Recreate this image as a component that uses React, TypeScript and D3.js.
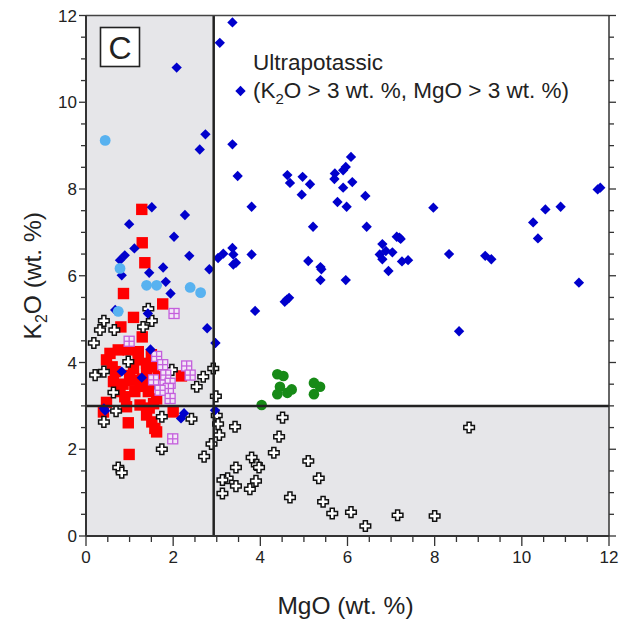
import React from "react";
import * as d3 from "d3";

const blueDiamonds: [number, number][] = [
  [3.36, 11.84], [3.07, 11.37], [2.08, 10.8], [2.74, 9.26], [2.61, 8.91], [3.36, 9.03], [3.48, 8.3],
  [4.62, 8.32], [4.68, 8.14], [4.97, 8.28], [5.14, 8.11], [4.95, 7.87], [3.8, 7.59], [5.71, 8.36],
  [5.7, 8.23], [5.9, 8.43], [5.96, 8.51], [6.08, 8.74], [6.11, 8.16], [5.9, 8.03], [6.41, 7.84],
  [5.77, 7.7], [5.98, 7.59], [1.51, 7.58], [7.97, 7.57], [10.54, 7.53], [10.89, 7.59], [11.74, 7.99],
  [11.8, 8.03], [10.26, 7.23], [10.37, 6.86], [11.31, 5.84], [8.56, 4.72], [7.19, 6.88], [7.22, 6.85],
  [6.8, 6.73], [6.88, 6.57], [7.03, 6.54], [6.8, 6.38], [6.94, 6.11], [7.25, 6.33], [7.39, 6.36],
  [8.33, 6.5], [9.16, 6.46], [9.3, 6.38], [5.21, 7.13], [6.44, 7.13], [6.74, 6.49], [7.13, 6.9],
  [3.36, 6.64], [3.15, 6.51], [3.03, 6.41], [3.38, 6.49], [3.38, 6.26], [3.44, 6.3], [3.8, 6.49],
  [2.83, 6.15], [5.1, 6.34], [5.38, 6.2], [5.4, 6.15], [5.38, 5.9], [5.96, 5.9], [4.66, 5.49],
  [4.56, 5.4], [4.61, 5.45], [3.88, 5.19], [2.78, 4.79], [2.97, 4.45], [2.27, 7.4], [0.99, 7.19],
  [2.02, 6.9], [1.11, 6.63], [0.89, 6.47], [0.78, 6.36], [2.37, 6.46], [0.82, 6.01], [1.45, 6.07],
  [1.77, 6.19], [1.83, 5.86], [1.94, 5.59], [0.67, 5.21], [1.42, 5.13], [1.48, 4.3], [0.82, 3.79],
  [1.28, 3.65], [0.44, 2.89], [0.41, 2.94], [2.25, 2.83], [2.18, 2.71], [2.96, 2.9],
];

const lightBlueCircles: [number, number][] = [
  [0.44, 9.12], [0.78, 6.17], [1.39, 5.78], [1.62, 5.78], [2.39, 5.73], [2.63, 5.61], [0.74, 5.18],
];

const redSquares: [number, number][] = [
  [1.28, 7.53], [1.29, 6.76], [1.35, 6.3], [0.86, 5.59], [1.76, 5.35], [1.09, 5.04], [0.8, 4.82],
  [1.29, 4.59], [0.55, 4.21], [0.74, 4.29], [0.97, 4.29], [1.2, 4.25], [0.47, 4.06], [1.2, 4.06],
  [1.39, 3.98], [0.67, 3.79], [1.09, 3.86], [1.39, 3.79], [1.66, 3.67], [0.63, 3.56], [1.05, 3.59],
  [1.43, 3.52], [2.19, 3.69], [0.78, 3.33], [1.12, 3.33], [1.43, 3.33], [1.62, 3.16], [0.47, 3.08],
  [0.93, 2.98], [1.24, 3.02], [1.39, 2.79], [2.0, 2.86], [0.97, 2.61], [1.51, 2.63], [1.58, 2.48],
  [1.62, 2.4], [0.99, 1.88], [0.4, 2.86], [0.89, 3.21], [1.5, 4.18], [1.55, 3.9], [1.3, 3.62],
  [1.55, 3.05], [0.6, 3.9], [1.0, 3.7], [0.85, 3.5], [1.25, 3.45], [1.45, 2.95],
];

const purpleSquares: [number, number][] = [
  [2.02, 5.13], [0.99, 4.49], [1.62, 4.14], [1.76, 3.95], [2.31, 3.92], [2.39, 3.71], [1.83, 3.71],
  [1.93, 3.52], [1.7, 3.48], [1.89, 3.4], [1.93, 3.17], [1.7, 3.36], [1.99, 2.24], [1.55, 3.6],
];

const crosses: [number, number][] = [
  [1.43, 5.24], [0.41, 4.96], [0.32, 4.75], [0.65, 4.75], [0.18, 4.45], [1.31, 4.82], [1.51, 4.96],
  [0.97, 4.02], [0.21, 3.71], [0.41, 3.79], [1.97, 3.83], [2.69, 3.67], [2.92, 3.86], [2.54, 3.44],
  [1.7, 3.44], [0.63, 3.31], [0.69, 2.88], [0.41, 2.63], [1.74, 2.75], [2.42, 2.7], [1.74, 2.0],
  [2.71, 1.83], [0.74, 1.58], [0.82, 1.46], [2.98, 3.22], [3.0, 2.78], [3.03, 2.58], [3.06, 2.33],
  [2.88, 2.12], [3.42, 2.52], [4.51, 2.73], [4.43, 2.29], [4.31, 1.92], [3.8, 1.81], [3.44, 1.58],
  [3.92, 1.64], [3.97, 1.58], [3.9, 1.27], [3.76, 1.08], [3.25, 1.33], [3.13, 1.29], [3.44, 1.15],
  [3.13, 0.98], [4.68, 0.89], [5.1, 1.73], [5.34, 1.33], [5.44, 0.79], [5.65, 0.52], [6.08, 0.55],
  [6.41, 0.23], [7.15, 0.48], [8.0, 0.46], [8.79, 2.5],
];

const greenCircles: [number, number][] = [
  [4.39, 3.73], [4.53, 3.69], [4.45, 3.44], [4.39, 3.27], [4.62, 3.3], [4.72, 3.38], [5.23, 3.53],
  [5.37, 3.44], [5.23, 3.27], [4.03, 3.02],
];

const xTickLabels = [0, 2, 4, 6, 8, 10, 12];
const yTickLabels = [0, 2, 4, 6, 8, 10, 12];
const mgoThreshold = 2.93;
const k2oThreshold = 3;

const W = 620;
const H = 625;
const x = d3.scaleLinear().domain([0, 12]).range([86, 609]);
const y = d3.scaleLinear().domain([0, 12]).range([536, 15.5]);

const FONT = "'Liberation Sans', Arial, sans-serif";
const minorTicks = d3.range(0, 12.01, 0.5);

function crossPath(s: number, a: number) {
  return `M${-a},${-s}H${a}V${-a}H${s}V${a}H${a}V${s}H${-a}V${a}H${-s}V${-a}H${-a}Z`;
}

export default function App() {
  const diamond = d3.symbol(d3.symbolDiamond2, 68)();
  const x0 = x(0), x1 = x(12), y0 = y(0), y1 = y(12);
  const xv = x(mgoThreshold), yh = y(k2oThreshold);
  return (
    <svg width={W} height={H} style={{ position: "absolute", left: 0, top: 0, background: "#fff" }}>
      <rect x={x0} y={y1} width={x1 - x0} height={y0 - y1} fill="#e6e6e9" />
      <rect x={xv} y={y1} width={x1 - xv} height={yh - y1} fill="#ffffff" />

      {minorTicks.map((t) => (
        <line key={"yl" + t} x1={x0} x2={x0 - (t % 2 === 0 ? 7 : 5)} y1={y(t)} y2={y(t)} stroke="#333" strokeWidth={1.3} />
      ))}
      {minorTicks.map((t) => (
        <line key={"yr" + t} x1={x1} x2={x1 + (t % 2 === 0 ? 7 : 5)} y1={y(t)} y2={y(t)} stroke="#333" strokeWidth={1.3} />
      ))}
      {minorTicks.map((t) => (
        <line key={"xb" + t} x1={x(t)} x2={x(t)} y1={y0} y2={y0 + (t % 2 === 0 ? 10 : 6)} stroke="#333" strokeWidth={1.3} />
      ))}

      {redSquares.map(([a, b], i) => (
        <rect key={"r" + i} x={x(a) - 5.7} y={y(b) - 5.7} width={11.4} height={11.4} fill="#ff0000" />
      ))}
      {crosses.map(([a, b], i) => (
        <path key={"c" + i} d={crossPath(5.3, 2)} transform={`translate(${x(a)},${y(b)})`} fill="#fff" stroke="#111" strokeWidth={1.5} />
      ))}
      {purpleSquares.map(([a, b], i) => (
        <g key={"p" + i} transform={`translate(${x(a)},${y(b)})`}>
          <rect x={-5} y={-5} width={10} height={10} fill="#f3e6f7" stroke="#c45fdc" strokeWidth={1.3} />
          <line x1={0} x2={0} y1={-5} y2={5} stroke="#c45fdc" strokeWidth={1.3} />
          <line x1={-5} x2={5} y1={0} y2={0} stroke="#c45fdc" strokeWidth={1.3} />
        </g>
      ))}
      {blueDiamonds.map(([a, b], i) => (
        <path key={"b" + i} d={diamond} transform={`translate(${x(a)},${y(b)})`} fill="#0000cc" />
      ))}
      {lightBlueCircles.map(([a, b], i) => (
        <circle key={"l" + i} cx={x(a)} cy={y(b)} r={5.4} fill="#58b2f0" />
      ))}
      {greenCircles.map(([a, b], i) => (
        <circle key={"g" + i} cx={x(a)} cy={y(b)} r={5.3} fill="#178a17" />
      ))}

      <line x1={xv} x2={xv} y1={y1} y2={y0} stroke="#222" strokeWidth={2.5} />
      <line x1={x0} x2={x1} y1={yh} y2={yh} stroke="#222" strokeWidth={2.5} />

      <line x1={x0} x2={x1} y1={y1} y2={y1} stroke="#444" strokeWidth={1.5} />
      <line x1={x1} x2={x1} y1={y1} y2={y0} stroke="#333" strokeWidth={1.5} />
      <line x1={x0} x2={x0} y1={y1} y2={y0} stroke="#333" strokeWidth={2} />
      <line x1={x0} x2={x1} y1={y0} y2={y0} stroke="#333" strokeWidth={2} />

      {yTickLabels.map((t) => (
        <text key={"ytl" + t} x={x0 - 9} y={y(t) + 6} textAnchor="end" fontFamily={FONT} fontSize={17} fill="#222">{t}</text>
      ))}
      {xTickLabels.map((t) => (
        <text key={"xtl" + t} x={x(t)} y={y0 + 27} textAnchor="middle" fontFamily={FONT} fontSize={17} fill="#222">{t}</text>
      ))}

      <text x={(x0 + x1) / 2 - 2} y={614} textAnchor="middle" fontFamily={FONT} fontSize={24.5} fill="#222">MgO (wt. %)</text>
      <text transform={`translate(41,${(y0 + y1) / 2}) rotate(-90)`} textAnchor="middle" fontFamily={FONT} fontSize={24.5} fill="#222">
        K<tspan fontSize={16} dy={6}>2</tspan><tspan dy={-6}>O (wt. %)</tspan>
      </text>

      <rect x={100.5} y={27.5} width={39} height={39} fill="#fff" stroke="#222" strokeWidth={1.6} />
      <text x={120} y={59} textAnchor="middle" fontFamily={FONT} fontSize={32} fill="#222">C</text>

      <text x={253} y={70} fontFamily={FONT} fontSize={22.5} fill="#222">Ultrapotassic</text>
      <path d={diamond} transform={`translate(240.5,91)`} fill="#0000cc" />
      <text x={253} y={98} fontFamily={FONT} fontSize={22.5} fill="#222">
        (K<tspan fontSize={15} dy={6}>2</tspan><tspan dy={-6}>O &gt; 3 wt. %, MgO &gt; 3 wt. %)</tspan>
      </text>
    </svg>
  );
}
